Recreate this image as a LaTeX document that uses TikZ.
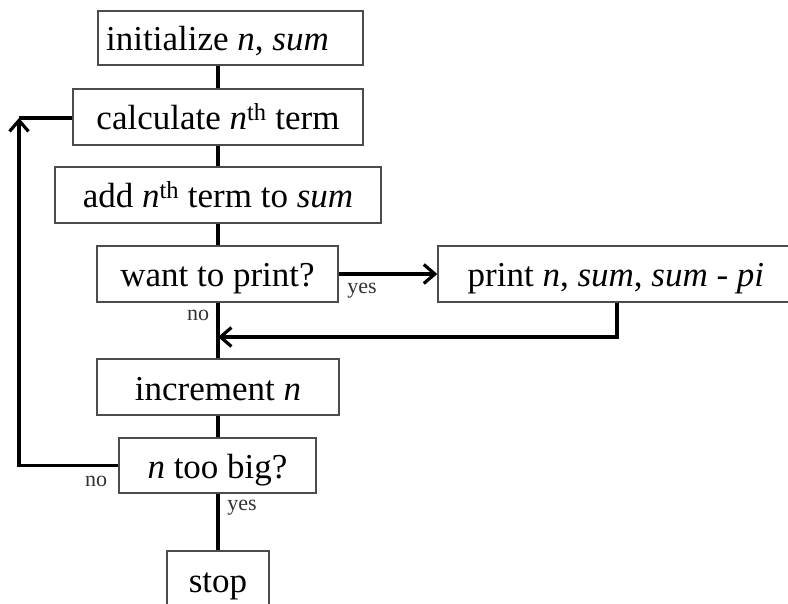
\documentclass[tikz,border=0pt]{standalone}
\usepackage{fontspec}
\setmainfont{Liberation Serif}
\usetikzlibrary{arrows.meta}
\begin{document}
\begin{tikzpicture}[x=1pt,y=-1pt,
  box/.style={draw=black!70,line width=1.5pt,inner sep=0pt,
    text height=28pt,text depth=2pt,
    font=\fontsize{35}{40}\selectfont},
  conn/.style={line width=3.2pt,black},
  arr/.style={conn,-{Straight Barb[length=11pt,width=19pt,line width=3.2pt]}},
  lbl/.style={inner sep=0pt,font=\fontsize{22}{26}\selectfont,text=black!80}]
\useasboundingbox (0,0) rectangle (788,604);
\clip (0,0) rectangle (788,604);
\fill[white] (0,0) rectangle (788,604);
\node[box,minimum width=265pt,minimum height=54pt] (b1) at (230.5,38) {initialize \textit{n}, \textit{sum}\hspace*{26pt}};
\node[box,minimum width=290pt,minimum height=56pt] (b2) at (218,117) {calculate \textit{n}\textsuperscript{th} term};
\node[box,minimum width=326pt,minimum height=56pt] (b3) at (218,195) {add \textit{n}\textsuperscript{th} term to \textit{sum}};
\node[box,minimum width=241pt,minimum height=56pt] (b4) at (217.5,274) {want to print?};
\node[box,minimum width=356pt,minimum height=56pt] (b5) at (616,274) {print \textit{n}, \textit{sum}, \textit{sum - pi}};
\node[box,minimum width=242pt,minimum height=56pt] (b6) at (218,387) {increment \textit{n}};
\node[box,minimum width=197pt,minimum height=55pt] (b7) at (217.5,465.5) {\textit{n} too big?};
\node[box,minimum width=102pt,minimum height=56pt] (b8) at (218,579) {stop};
\coordinate (dn) at (617,337);
\coordinate (lp) at (19,118);
\draw[conn] (b1.south -| b2.north) -- (b2.north);
\draw[conn] (b2.south) -- (b3.north);
\draw[conn] (b3.south) -- (b4.north -| b3.south);
\draw[conn] (b4.south -| b6.north) -- (b6.north);
\draw[conn] (b6.south) -- (b7.north -| b6.south);
\draw[conn] (b7.south -| b8.north) -- (b8.north);
\draw[arr] (b4.east) -- (b5.west);
\draw[arr] (b5.south -| dn) -- (dn) -- (dn -| b6.north);
\draw[arr] (b7.west) -| (lp);
\draw[conn] (lp) -- (b2.west |- lp);
\node[lbl] (y1) at (362,291) {yes};
\node[lbl] (n1) at (198,315) {no};
\node[lbl] (n2) at (96,481) {no};
\node[lbl] (y2) at (242,508) {yes};
\end{tikzpicture}
\end{document}
